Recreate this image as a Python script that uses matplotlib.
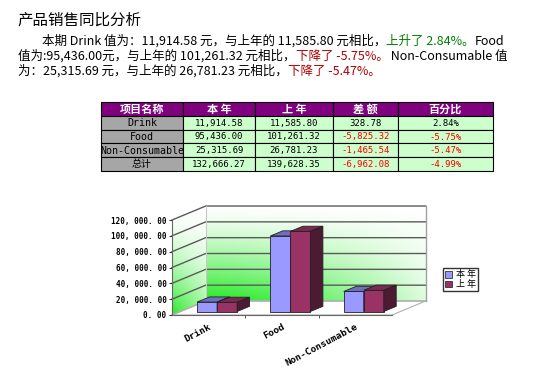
import numpy as np
import matplotlib.pyplot as plt
from matplotlib.patches import Polygon, Rectangle, Patch

plt.rcParams['font.family'] = ['Noto Sans CJK SC', 'DejaVu Sans']

products = ['Drink', 'Food', 'Non-Consumable']
series = ['本年', '上年']
this_year = [11914.58, 95436.00, 25315.69]
last_year = [11585.80, 101261.32, 26781.23]
total_label = '总计'
y_ticks = [0, 20000, 40000, 60000, 80000, 100000, 120000]

rows = products + [total_label]
cur = this_year + [sum(this_year)]
prev = last_year + [sum(last_year)]
diff = [c - p for c, p in zip(cur, prev)]
pct = [d / p * 100 for d, p in zip(diff, prev)]

W, H = 539, 368
fig = plt.figure(figsize=(W / 100, H / 100), dpi=100)

# overlay in pixel coords for the text and the table
ov = fig.add_axes([0, 0, 1, 1])
ov.set_xlim(0, W)
ov.set_ylim(H, 0)
ov.axis('off')

ov.text(17, 20, '产品销售同比分析', fontsize=11.2, va='center', ha='left')

GREEN = '#008000'
RED = '#b00000'
FS = 9


def write_line(x, y, pieces):
    t = ov.text(x, y, pieces[0][0], color=pieces[0][1], fontsize=FS, va='center')
    for s, c in pieces[1:]:
        t = ov.annotate(s, xy=(1, 0), xycoords=t, va='bottom', ha='left',
                        color=c, fontsize=FS)


write_line(42, 41, [
    (f"本期 {products[0]} 值为：{this_year[0]:,.2f} 元，与上年的 {last_year[0]:,.2f} 元相比，", 'black'),
    (f"上升了 {pct[0]:.2f}%。", GREEN),
    (f"{products[1]}", 'black')])
write_line(18, 56, [
    (f"值为:{this_year[1]:,.2f}元，与上年的 {last_year[1]:,.2f} 元相比，", 'black'),
    (f"下降了 {pct[1]:.2f}%。", RED),
    (f" {products[2]} 值", 'black')])
write_line(18, 71, [
    (f"为：{this_year[2]:,.2f} 元，与上年的 {last_year[2]:,.2f} 元相比，", 'black'),
    (f"下降了 {pct[2]:.2f}%。", RED)])

# table
col_x = [101, 183, 255, 333, 398, 493]
row_y = [102, 116, 130, 143, 157, 171]
headers = ['项目名称', '本 年', '上 年', '差 额', '百分比']
for j, h in enumerate(headers):
    ov.add_patch(Rectangle((col_x[j], row_y[0]), col_x[j + 1] - col_x[j], row_y[1] - row_y[0],
                           fc='#800080', ec='black', lw=0.8))
    ov.text((col_x[j] + col_x[j + 1]) / 2, (row_y[0] + row_y[1]) / 2 + 0.5, h, color='white',
            fontsize=8, weight='bold', ha='center', va='center')

mono = ['DejaVu Sans Mono', 'Noto Sans CJK SC']
for i, name in enumerate(rows):
    y0, y1 = row_y[i + 1], row_y[i + 2]
    yc = (y0 + y1) / 2 + 0.5
    ov.add_patch(Rectangle((col_x[0], y0), col_x[1] - col_x[0], y1 - y0,
                           fc='#a6a6a6', ec='black', lw=0.8))
    ov.text((col_x[0] + col_x[1]) / 2, yc, name, fontsize=7.2, family=mono,
            ha='center', va='center')
    cells = [f"{cur[i]:,.2f}", f"{prev[i]:,.2f}", f"{diff[i]:,.2f}", f"{pct[i]:.2f}%"]
    for j, s in enumerate(cells):
        ov.add_patch(Rectangle((col_x[j + 1], y0), col_x[j + 2] - col_x[j + 1], y1 - y0,
                               fc='#ccffcc', ec='black', lw=0.8))
        c = '#ff0000' if (j >= 2 and diff[i] < 0) else 'black'
        ov.text((col_x[j + 1] + col_x[j + 2]) / 2, yc, s, fontsize=6.5, family=mono,
                color=c, ha='center', va='center')

# 3D-looking bar chart
ax = fig.add_axes([172 / W, 1 - 315 / H, 253.7 / W, 112 / H])
DX, DY = 0.46, 17684
TOP = y_ticks[-1]

ny, nx = 120, 240
yy, xx = np.mgrid[0:1:ny * 1j, 0:1:nx * 1j]
green = np.array([0.15, 0.92, 0.15])
a = np.clip((1 - yy) ** 1.3 * (1 - 0.85 * xx ** 1.5), 0, 1)
img = 1 - a[..., None] * (1 - green)
ax.imshow(img, extent=(-0.5 + DX, 2.5 + DX, DY, TOP + DY), origin='lower',
          aspect='auto', zorder=0, interpolation='bilinear')

a2 = np.clip((1 - yy) ** 1.6 * (1 - 0.55 * xx), 0, 1)
img2 = 1 - a2[..., None] * (1 - green)
im2 = ax.imshow(img2, extent=(-0.5, -0.5 + DX, 0, TOP + DY), origin='lower',
                aspect='auto', zorder=0, interpolation='bilinear')
left_wall = Polygon([(-0.5, 0), (-0.5, TOP), (-0.5 + DX, TOP + DY), (-0.5 + DX, DY)],
                    closed=True, fc='none', ec='none')
ax.add_patch(left_wall)
im2.set_clip_path(left_wall)

ax.add_patch(Polygon([(-0.5, 0), (2.5, 0), (2.5 + DX, DY), (-0.5 + DX, DY)],
                     closed=True, fc='white', ec='#b0b0b0', lw=0.8, zorder=1))

for v in y_ticks:
    col = '#b0b0b0' if v == 0 else '#5a5a5a'
    ax.plot([-0.5, -0.5 + DX, 2.5 + DX], [v, v + DY, v + DY], color=col, lw=1.0,
            zorder=1, clip_on=False)
ax.plot([2.5 + DX, 2.5 + DX], [DY, TOP + DY], color='#a0a0a0', lw=1.0, zorder=1, clip_on=False)
ax.plot([-0.5 + DX, -0.5 + DX], [DY, TOP + DY], color='#c8c8c8', lw=0.8, zorder=1, clip_on=False)

bw = 0.273
bx, by = 0.25 * DX, 0.25 * DY
bdx, bdy = 0.17, 6500
styles = [('#9999ff', '#6f6fc0', '#4a4a8a'), ('#993366', '#7a2952', '#4d1a33')]
for k, vals in enumerate([this_year, last_year]):
    front, top, side = styles[k]
    for i, v in enumerate(vals):
        x0 = i - bw + k * bw + bx
        x1 = x0 + bw
        z = 3 + k
        ax.bar(x0, v, width=bw, bottom=by, align='edge', color=front,
               edgecolor='#222222', lw=0.6, zorder=z)
        ax.add_patch(Polygon([(x0, by + v), (x1, by + v), (x1 + bdx, by + v + bdy), (x0 + bdx, by + v + bdy)],
                             closed=True, fc=top, ec='#222222', lw=0.6, zorder=z))
        ax.add_patch(Polygon([(x1, by), (x1, by + v), (x1 + bdx, by + v + bdy), (x1 + bdx, by + bdy)],
                             closed=True, fc=side, ec='#222222', lw=0.6, zorder=z))

ax.set_xlim(-0.5, 2.5 + DX)
ax.set_ylim(0, 141500)
ax.patch.set_visible(False)
for s in ['top', 'right']:
    ax.spines[s].set_visible(False)
ax.spines['left'].set_bounds(0, TOP)
ax.spines['bottom'].set_bounds(-0.5, 2.5)
ax.spines['left'].set_color('#666666')
ax.spines['bottom'].set_color('#666666')

ax.set_yticks(y_ticks)
ax.set_yticklabels([f"{v:,.2f}".replace(',', ', ').replace('.', '. ') for v in y_ticks],
                   fontsize=5.5, family='DejaVu Sans Mono', weight='bold')
ax.tick_params(axis='y', length=2, pad=2, colors='#333333', labelcolor='black')
ax.set_xticks(range(len(products)))
ax.set_xticklabels(products, rotation=28, ha='right', rotation_mode='anchor',
                   fontsize=6.8, family='DejaVu Sans Mono', weight='bold')
ax.set_xticks([0.5, 1.5], minor=True)
ax.tick_params(axis='x', which='major', length=0, pad=5)
ax.tick_params(axis='x', which='minor', length=2, color='#333333')

handles = [Patch(fc=styles[0][0], ec='#333333', lw=0.6), Patch(fc=styles[1][0], ec='#333333', lw=0.6)]
leg = fig.legend(handles, [' '.join(s) for s in series], loc='upper left',
                 bbox_to_anchor=(443 / W, 1 - 268 / H), fontsize=6.5, frameon=True,
                 fancybox=False, borderpad=0.25, handlelength=0.8, handleheight=0.8,
                 handletextpad=0.4, labelspacing=0.1, borderaxespad=0)
leg.get_frame().set_edgecolor('black')
leg.get_frame().set_linewidth(1.0)

fig.savefig('out.png', dpi=100)
